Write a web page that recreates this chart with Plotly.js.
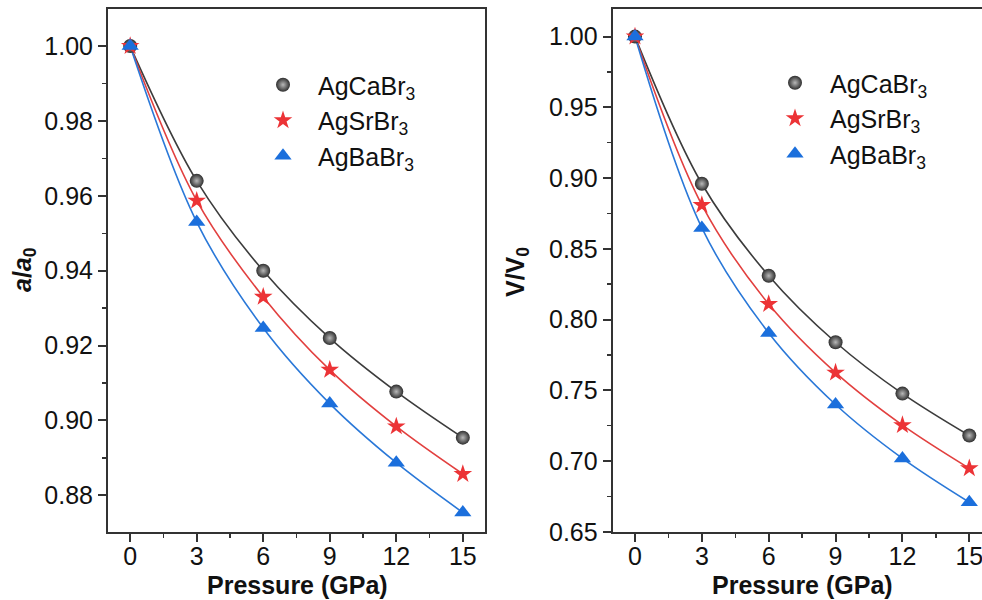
<!DOCTYPE html>
<html>
<head>
<meta charset="utf-8">
<script src="https://cdn.plot.ly/plotly-3.0.1.min.js"></script>
<style>html,body{margin:0;padding:0;background:#fff;}#chart{width:982px;height:600px;}</style>
</head>
<body>
<div id="chart"></div>
<script>
// Data
const pressure = [0, 3, 6, 9, 12, 15];
const seriesNames = ["AgCaBr<sub>3</sub>", "AgSrBr<sub>3</sub>", "AgBaBr<sub>3</sub>"];
// lattice parameter ratio a/a0
const aCa = [1.000, 0.964, 0.940, 0.922, 0.9077, 0.8954];
const aSr = [1.000, 0.9587, 0.933, 0.9135, 0.8984, 0.8857];
const aBa = [1.000, 0.953, 0.9247, 0.9045, 0.8887, 0.8754];
// volume ratio V/V0
const vCa = [1.000, 0.896, 0.831, 0.784, 0.7477, 0.7181];
const vSr = [1.000, 0.881, 0.811, 0.7625, 0.7254, 0.6949];
const vBa = [1.000, 0.8648, 0.7906, 0.740, 0.7019, 0.6709];
const xTicks = [0, 3, 6, 9, 12, 15];

const FONT = "Liberation Sans, Arial, sans-serif";
const FS = 25;
const styles = [
  {line: "#3c3c3c", marker: {symbol: "circle", size: 14, color: "#2e2e2e", gradient: {type: "radial", color: "#b8b8b8"}, line: {width: 0}}},
  {line: "#e2403f", marker: {symbol: "star", size: 14, color: "#ec3336", line: {width: 0}}},
  {line: "#2a78d8", marker: {symbol: "triangle-up", size: 15, color: "#1b6fdc", line: {width: 0}}}
];

function lineTrace(y, i, xa, ya) {
  return {
    x: pressure, y: y, type: "scatter", mode: "lines", showlegend: false, hoverinfo: "skip",
    xaxis: xa, yaxis: ya,
    line: {color: styles[i].line, width: 1.6, shape: "spline", smoothing: 1}
  };
}
function markTrace(y, i, xa, ya, leg) {
  return {
    x: pressure, y: y, type: "scatter", mode: "markers",
    name: seriesNames[i], xaxis: xa, yaxis: ya, legend: leg,
    marker: styles[i].marker
  };
}

const traces = [
  lineTrace(aCa, 0, "x", "y"), lineTrace(aSr, 1, "x", "y"), lineTrace(aBa, 2, "x", "y"),
  lineTrace(vCa, 0, "x2", "y2"), lineTrace(vSr, 1, "x2", "y2"), lineTrace(vBa, 2, "x2", "y2"),
  markTrace(aCa, 0, "x", "y", "legend"),
  markTrace(aSr, 1, "x", "y", "legend"),
  markTrace(aBa, 2, "x", "y", "legend"),
  markTrace(vCa, 0, "x2", "y2", "legend2"),
  markTrace(vSr, 1, "x2", "y2", "legend2"),
  markTrace(vBa, 2, "x2", "y2", "legend2")
];

const axCommon = {
  showgrid: false, zeroline: false, showline: true, linecolor: "#333", linewidth: 2,
  ticks: "outside", ticklen: 8, tickwidth: 2, tickcolor: "#333",
  ticklabeloverflow: "allow",
  tickfont: {family: FONT, size: FS, color: "#111"}
};
const minorStyle = {ticks: "outside", ticklen: 4, tickwidth: 1.5, tickcolor: "#333"};
const yDom = [68/600, 591/600];

const layout = {
  width: 982, height: 600,
  margin: {l: 0, r: 0, t: 0, b: 0},
  paper_bgcolor: "#fff", plot_bgcolor: "#fff",
  font: {family: FONT, color: "#111"},
  xaxis: Object.assign({}, axCommon, {domain: [108/982, 485/982], range: [-1, 16], tickvals: xTicks, mirror: true,
    ticklabelstandoff: -7,
    minor: Object.assign({dtick: 1.5, tick0: 0}, minorStyle), anchor: "y"}),
  yaxis: Object.assign({}, axCommon, {domain: yDom, range: [0.8702, 1.0099], dtick: 0.02, tick0: 0.88, tickformat: ".2f", mirror: true,
    minor: Object.assign({dtick: 0.01, tick0: 0.88}, minorStyle), anchor: "x"}),
  xaxis2: Object.assign({}, axCommon, {domain: [612.7/982, 1], range: [-1, 15.57], tickvals: xTicks, mirror: true,
    ticklabelstandoff: -7,
    minor: Object.assign({dtick: 1.5, tick0: 0}, minorStyle), anchor: "y2"}),
  yaxis2: Object.assign({}, axCommon, {domain: yDom, range: [0.6499, 1.0195], dtick: 0.05, tick0: 0.65, tickformat: ".2f", mirror: false,
    minor: Object.assign({dtick: 0.025, tick0: 0.65}, minorStyle), anchor: "x2"}),
  showlegend: true,
  legend: {x: 248/982, y: 1 - 62/600, xanchor: "left", yanchor: "top", bgcolor: "rgba(0,0,0,0)",
    font: {family: FONT, size: FS, color: "#111"}, itemsizing: "trace", itemwidth: 60, tracegroupgap: 0},
  legend2: {x: 760/982, y: 1 - 60/600, xanchor: "left", yanchor: "top", bgcolor: "rgba(0,0,0,0)",
    font: {family: FONT, size: FS, color: "#111"}, itemsizing: "trace", itemwidth: 60, tracegroupgap: 0},
  annotations: [
    {text: "<b>Pressure (GPa)</b>", xref: "paper", yref: "paper", x: 297/982, y: 15/600, xanchor: "center", yanchor: "middle",
      showarrow: false, font: {family: FONT, size: FS, color: "#111"}},
    {text: "<b>Pressure (GPa)</b>", xref: "paper", yref: "paper", x: 802/982, y: 15/600, xanchor: "center", yanchor: "middle",
      showarrow: false, font: {family: FONT, size: FS, color: "#111"}},
    {text: "<b><i>a</i>/<i>a</i><sub>0</sub></b>", xref: "paper", yref: "paper", x: 24/982, y: 1 - 270/600, xanchor: "center", yanchor: "middle",
      textangle: -90, showarrow: false, font: {family: FONT, size: FS, color: "#111"}},
    {text: "<b>V/V<sub>0</sub></b>", xref: "paper", yref: "paper", x: 517/982, y: 1 - 272/600, xanchor: "center", yanchor: "middle",
      textangle: -90, showarrow: false, font: {family: FONT, size: FS, color: "#111"}}
  ]
};

Plotly.newPlot("chart", traces, layout, {displayModeBar: false, staticPlot: true});
</script>
</body>
</html>
